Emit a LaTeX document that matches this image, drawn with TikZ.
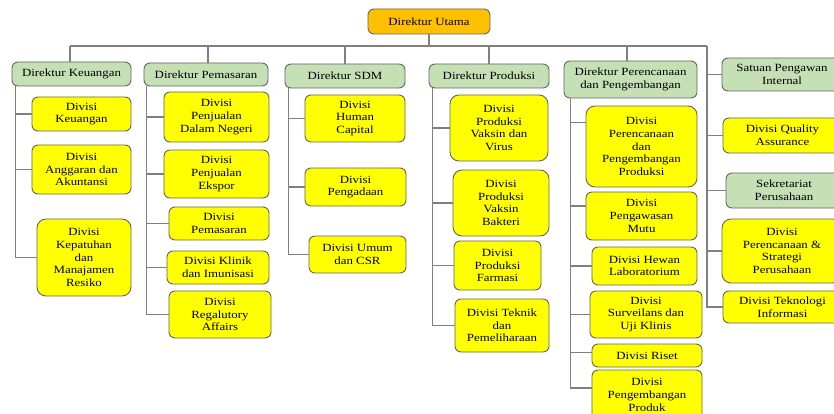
\documentclass[tikz,border=0pt]{standalone}
\usepackage{fontspec}
\setmainfont[FakeStretch=1.17]{Liberation Serif}
\definecolor{orgfill}{RGB}{255,192,0}
\definecolor{grnfill}{RGB}{197,224,180}
\definecolor{ylwfill}{RGB}{255,255,0}
\definecolor{bordc}{RGB}{100,100,100}
\definecolor{linec}{RGB}{128,128,128}
\tikzset{
  basebox/.style={draw=bordc, line width=0.9pt, rounded corners=6pt, inner sep=0pt, align=center,
    font=\fontsize{11}{12.7}\selectfont, text=black},
  obox/.style={basebox, fill=orgfill},
  gbox/.style={basebox, fill=grnfill},
  ybox/.style={basebox, fill=ylwfill},
  tbox/.style={basebox, fill=ylwfill, rounded corners=9pt},
  conn/.style={draw=linec, line width=1.1pt}
}
\newcommand\bx[7]{\node[#2, minimum width={#5-#3}, minimum height={#6-#4}] (#1) at ({(#3+#5)/2},{(#4+#6)/2}) {#7};}
\begin{document}
\begin{tikzpicture}[x=1pt,y=-1pt]
\useasboundingbox (0,0) rectangle (834,414);
\clip (0,0) rectangle (834,414);
\fill[white] (0,0) rectangle (834,414);
% top
\bx{du}{obox}{368}{9}{490}{34}{Direktur Utama}
% directors
\bx{dk}{gbox}{12}{62}{131}{86}{Direktur Keuangan}
\bx{dp}{gbox}{144}{63}{268}{86}{Direktur Pemasaran}
\bx{ds}{gbox}{285}{64}{405}{88}{Direktur SDM}
\bx{dpr}{gbox}{429}{64}{549}{88}{Direktur Produksi}
\bx{dpp}{gbox}{564}{61}{697}{98}{Direktur Perencanaan\\dan Pengembangan}
\bx{spi}{gbox}{722}{58}{842}{91}{Satuan Pengawan\\Internal}
% Keuangan
\bx{k1}{ybox}{32}{97}{131}{131}{Divisi\\Keuangan}
\bx{k2}{ybox}{32}{145}{131}{194}{Divisi\\Anggaran dan\\Akuntansi}
\bx{k3}{tbox}{37}{219}{131}{296}{Divisi\\Kepatuhan\\dan\\Manajamen\\Resiko}
% Pemasaran
\bx{p1}{ybox}{164}{92}{269}{142}{Divisi\\Penjualan\\Dalam Negeri}
\bx{p2}{ybox}{164}{150}{269}{198}{Divisi\\Penjualan\\Ekspor}
\bx{p3}{ybox}{169}{207}{269}{240}{Divisi\\Pemasaran}
\bx{p4}{ybox}{167}{251}{269}{284}{Divisi Klinik\\dan Imunisasi}
\bx{p5}{ybox}{169}{291}{271}{338}{Divisi\\Regalutory\\Affairs}
% SDM
\bx{s1}{ybox}{305}{95}{405}{142}{Divisi\\Human\\Capital}
\bx{s2}{ybox}{305}{168}{406}{206}{Divisi\\Pengadaan}
\bx{s3}{ybox}{309}{236}{406}{273}{Divisi Umum\\dan CSR}
% Produksi
\bx{r1}{tbox}{450}{95}{548}{161}{Divisi\\Produksi\\Vaksin dan\\Virus}
\bx{r2}{tbox}{453}{170}{549}{236}{Divisi\\Produksi\\Vaksin\\Bakteri}
\bx{r3}{ybox}{454}{241}{541}{290}{Divisi\\Produksi\\Farmasi}
\bx{r4}{ybox}{455}{299}{549}{352}{Divisi Teknik\\dan\\Pemeliharaan}
% Perencanaan
\bx{e1}{tbox}{586}{106}{697}{187}{Divisi\\Perencanaan\\dan\\Pengembangan\\Produksi}
\bx{e2}{ybox}{586}{192}{697}{240}{Divisi\\Pengawasan\\Mutu}
\bx{e3}{ybox}{592}{247}{697}{285}{Divisi Hewan\\Laboratorium}
\bx{e4}{ybox}{590}{291}{702}{338}{Divisi\\Surveilans dan\\Uji Klinis}
\bx{e5}{ybox}{592}{344}{702}{367}{Divisi Riset}
\bx{e6}{ybox}{592}{370}{702}{420}{Divisi\\Pengembangan\\Produk}
% right column
\bx{q1}{ybox}{723}{118}{842}{153}{Divisi Quality\\Assurance}
\bx{q2}{gbox}{726}{173}{842}{208}{Sekretariat\\Perusahaan}
\bx{q3}{tbox}{722}{219}{842}{283}{Divisi\\Perencanaan \&\\Strategi\\Perusahaan}
\bx{q4}{ybox}{723}{291}{842}{323}{Divisi Teknologi\\Informasi}
% connectors: top bus
\coordinate (busR) at (707,46);
\draw[conn] (du.south) -- (du.south |- busR);
\draw[conn] ([xshift=-1.5pt]dk.north |- busR) -- (busR);
\draw[conn] ([xshift=-1.5pt]dk.north) -- ([xshift=-1.5pt]dk.north |- busR);
\draw[conn] ([xshift=2pt]dp.north) -- ([xshift=2pt]dp.north |- busR);
\draw[conn] (ds.north) -- (ds.north |- busR);
\draw[conn] (dpr.north) -- (dpr.north |- busR);
\draw[conn] ([xshift=-3.5pt]dpp.north) -- ([xshift=-3.5pt]dpp.north |- busR);
% right spine
\draw[conn] (busR) |- (q4.west);
\foreach \n in {spi,q1,q2,q3} \draw[conn] (\n.west -| busR) -- (\n.west);
% Keuangan spine
\coordinate (kt) at ([xshift=4pt]dk.south west);
\draw[conn] (kt) |- (k3.west);
\foreach \n in {k1,k2} \draw[conn] (\n.west -| kt) -- (\n.west);
% Pemasaran spine
\coordinate (pt) at ([xshift=3pt]dp.south west);
\draw[conn] (pt) |- (p5.west);
\foreach \n in {p1,p2,p3,p4} \draw[conn] (\n.west -| pt) -- (\n.west);
% SDM spine
\coordinate (st) at ([xshift=4pt]ds.south west);
\draw[conn] (st) |- (s3.west);
\foreach \n in {s1,s2} \draw[conn] (\n.west -| st) -- (\n.west);
% Produksi spine
\coordinate (rt) at ([xshift=4pt]dpr.south west);
\draw[conn] (rt) |- (r4.west);
\foreach \n in {r1,r2,r3} \draw[conn] (\n.west -| rt) -- (\n.west);
% Perencanaan spine
\coordinate (et) at ([xshift=7pt]dpp.south west);
\draw[conn] (et) |- ([yshift=7pt]e6.west);
\draw[conn] ([yshift=24pt]e1.west -| et) -- ([yshift=24pt]e1.west);
\draw[conn] ([yshift=10pt]e2.west -| et) -- ([yshift=10pt]e2.west);
\draw[conn] ([yshift=3pt]e5.west -| et) -- ([yshift=3pt]e5.west);
\foreach \n in {e3,e4} \draw[conn] (\n.west -| et) -- (\n.west);
\end{tikzpicture}
\end{document}
